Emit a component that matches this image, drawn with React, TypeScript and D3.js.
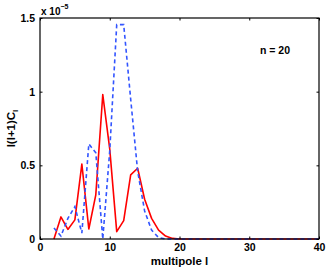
import React, { useEffect, useRef } from 'react';
import * as d3 from 'd3';

// multipole l values
const ells = d3.range(2, 41);

// l(l+1)C_l in units of 1e-5 (l = 2 .. 40)
const redValues = [
  0, 0.15, 0.065, 0.13, 0.508, 0.068, 0.3, 0.98, 0.61, 0.05,
  0.125, 0.435, 0.48, 0.27, 0.14, 0.06, 0.02, 0.004, 0,
  0, 0, 0, 0, 0, 0, 0, 0, 0, 0, 0, 0, 0, 0, 0, 0, 0, 0, 0, 0,
];
const blueValues = [
  0.075, 0.02, 0.14, 0.22, 0.04, 0.645, 0.585, 0, 0.6, 1.455,
  1.455, 0.95, 0.46, 0.19, 0.06, 0.01, 0, 0, 0,
  0, 0, 0, 0, 0, 0, 0, 0, 0, 0, 0, 0, 0, 0, 0, 0, 0, 0, 0, 0,
];

const xTicks = [0, 10, 20, 30, 40];
const yTicks = [0, 0.5, 1, 1.5];

const App = () => {
  const ref = useRef<SVGSVGElement>(null);
  const width = 327;
  const height = 268;
  const margin = { top: 18, right: 8, bottom: 29, left: 40 };

  useEffect(() => {
    const svg = d3.select(ref.current);
    svg.selectAll('*').remove();
    const font = 'Liberation Sans, Arial, sans-serif';

    const x = d3.scaleLinear().domain([0, 40]).range([margin.left, width - margin.right]);
    const y = d3.scaleLinear().domain([0, 1.5]).range([height - margin.bottom, margin.top]);

    svg.append('rect').attr('width', width).attr('height', height).attr('fill', '#fff');

    const line = d3.line<number>()
      .x((d, i) => x(ells[i]))
      .y(d => y(d));

    svg.append('path')
      .datum(redValues)
      .attr('d', line)
      .attr('fill', 'none')
      .attr('stroke', '#ff0000')
      .attr('stroke-width', 1.6)
      .attr('stroke-linejoin', 'round');

    svg.append('path')
      .datum(blueValues)
      .attr('d', line)
      .attr('fill', 'none')
      .attr('stroke', '#3355ff')
      .attr('stroke-width', 1.6)
      .attr('stroke-dasharray', '4,3');

    // box
    svg.append('rect')
      .attr('x', x(0))
      .attr('y', y(1.5))
      .attr('width', x(40) - x(0))
      .attr('height', y(0) - y(1.5))
      .attr('fill', 'none')
      .attr('stroke', '#000')
      .attr('stroke-width', 1.2);

    const tl = 2.5;
    // x axis ticks (inside, bottom and top)
    svg.append('g')
      .attr('transform', `translate(0,${y(0)})`)
      .call(d3.axisBottom(x).tickValues(xTicks).tickSize(-tl).tickPadding(5).tickFormat(d3.format('d')))
      .call(g => g.select('.domain').remove())
      .call(g => g.selectAll('text').attr('font-family', font).attr('font-weight', 'bold').attr('font-size', 10.5).attr('fill', '#000'));
    svg.append('g')
      .attr('transform', `translate(0,${y(1.5)})`)
      .call(d3.axisTop(x).tickValues(xTicks).tickSize(-tl).tickFormat(() => ''))
      .call(g => g.select('.domain').remove());

    // y axis ticks (inside, left and right)
    svg.append('g')
      .attr('transform', `translate(${x(0)},0)`)
      .call(d3.axisLeft(y).tickValues(yTicks).tickSize(-tl).tickPadding(5).tickFormat(d => String(d)))
      .call(g => g.select('.domain').remove())
      .call(g => g.selectAll('text').attr('font-family', font).attr('font-weight', 'bold').attr('font-size', 10.5).attr('fill', '#000'));
    svg.append('g')
      .attr('transform', `translate(${x(40)},0)`)
      .call(d3.axisRight(y).tickValues(yTicks).tickSize(-tl).tickFormat(() => ''))
      .call(g => g.select('.domain').remove());

    // exponent label
    const ex = svg.append('text')
      .attr('x', x(0) + 1)
      .attr('y', 15)
      .attr('font-family', font)
      .attr('font-weight', 'bold')
      .attr('font-size', 10);
    ex.append('tspan').text('x 10');
    ex.append('tspan').attr('dy', -6).attr('font-size', 7).text('−5');

    // x label
    svg.append('text')
      .attr('x', (x(0) + x(40)) / 2)
      .attr('y', 265)
      .attr('text-anchor', 'middle')
      .attr('font-family', font)
      .attr('font-weight', 'bold')
      .attr('font-size', 11.5)
      .text('multipole l');

    // y label
    const yl = svg.append('text')
      .attr('transform', `translate(15,${(y(0) + y(1.5)) / 2}) rotate(-90)`)
      .attr('text-anchor', 'middle')
      .attr('font-family', font)
      .attr('font-weight', 'bold')
      .attr('font-size', 11.5);
    yl.append('tspan').text('l(l+1)C');
    yl.append('tspan').attr('dy', 3).attr('font-size', 8).text('l');

    // annotation
    svg.append('text')
      .attr('x', 275)
      .attr('y', 54)
      .attr('text-anchor', 'middle')
      .attr('font-family', font)
      .attr('font-weight', 'bold')
      .attr('font-size', 10.5)
      .text('n = 20');
  }, []);

  return (
    <svg
      ref={ref}
      width={width}
      height={height}
      style={{ position: 'absolute', left: 0, top: 0 }}
    />
  );
};

export default App;
